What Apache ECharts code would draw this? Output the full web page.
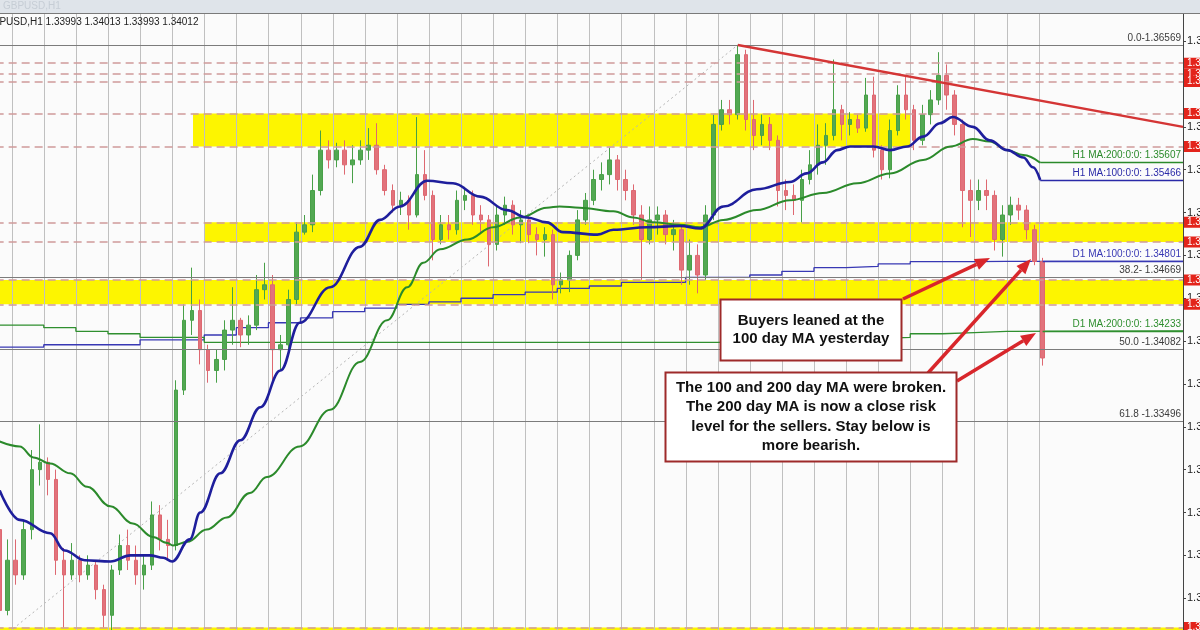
<!DOCTYPE html>
<html lang="en">
<head>
  <meta charset="UTF-8">
  <title>GBPUSD,H1</title>
  <style>
    html, body { margin: 0; padding: 0; background: #fbfbfb; }
    #chart { width: 1200px; height: 630px; }
  </style>
  <script src="https://cdn.jsdelivr.net/npm/echarts@6/dist/echarts.min.js"></script>
</head>
<body>
  <div id="chart"></div>
<script>
  // price bars, [open, close, low, high]
  const candles = [
    [1.3261,1.3195,1.3181,1.3265],[1.3195,1.3236,1.3191,1.3253],[1.3236,1.3224,1.3216,1.3253],[1.3224,1.3261,1.3220,1.3269],
    [1.3261,1.3310,1.3253,1.3326],[1.3310,1.3316,1.3297,1.3347],[1.3316,1.3302,1.3289,1.3320],[1.3302,1.3236,1.3224,1.3310],
    [1.3236,1.3224,1.3181,1.3246],[1.3224,1.3236,1.3220,1.3250],[1.3236,1.3224,1.3218,1.3240],[1.3224,1.3232,1.3220,1.3240],
    [1.3232,1.3212,1.3204,1.3236],[1.3212,1.3191,1.3181,1.3216],[1.3191,1.3228,1.3179,1.3232],[1.3228,1.3248,1.3224,1.3257],
    [1.3248,1.3236,1.3228,1.3261],[1.3236,1.3224,1.3216,1.3248],[1.3224,1.3232,1.3212,1.3240],[1.3232,1.3273,1.3228,1.3284],
    [1.3273,1.3253,1.3244,1.3281],[1.3253,1.3248,1.3236,1.3269],[1.3248,1.3375,1.3244,1.3383],[1.3375,1.3432,1.3371,1.3445],
    [1.3432,1.3440,1.3420,1.3475],[1.3440,1.3408,1.3396,1.3449],[1.3408,1.3391,1.3381,1.3412],[1.3391,1.3400,1.3381,1.3408],
    [1.3400,1.3424,1.3391,1.3432],[1.3424,1.3432,1.3412,1.3459],[1.3432,1.3420,1.3410,1.3434],[1.3420,1.3428,1.3412,1.3436],
    [1.3428,1.3457,1.3424,1.3469],[1.3457,1.3461,1.3449,1.3479],[1.3461,1.3408,1.3383,1.3469],[1.3408,1.3412,1.3391,1.3420],
    [1.3412,1.3449,1.3404,1.3457],[1.3449,1.3504,1.3445,1.3512],[1.3504,1.3510,1.3502,1.3518],[1.3510,1.3538,1.3504,1.3551],
    [1.3538,1.3571,1.3534,1.3587],[1.3571,1.3563,1.3556,1.3579],[1.3563,1.3571,1.3557,1.3577],[1.3571,1.3559,1.3551,1.3579],
    [1.3559,1.3563,1.3544,1.3575],[1.3563,1.3571,1.3559,1.3579],[1.3571,1.3575,1.3563,1.3589],[1.3575,1.3555,1.3551,1.3593],
    [1.3555,1.3538,1.3534,1.3559],[1.3538,1.3526,1.3520,1.3543],[1.3526,1.3530,1.3518,1.3537],[1.3530,1.3518,1.3506,1.3534],
    [1.3518,1.3551,1.3516,1.3598],[1.3551,1.3534,1.3530,1.3571],[1.3534,1.3498,1.3481,1.3538],[1.3498,1.3510,1.3494,1.3518],
    [1.3510,1.3506,1.3498,1.3518],[1.3506,1.3530,1.3502,1.3538],[1.3530,1.3534,1.3522,1.3541],[1.3534,1.3518,1.3510,1.3538],
    [1.3518,1.3514,1.3503,1.3526],[1.3514,1.3494,1.3476,1.3518],[1.3494,1.3518,1.3489,1.3526],[1.3518,1.3526,1.3510,1.3533],
    [1.3526,1.3510,1.3502,1.3530],[1.3510,1.3514,1.3495,1.3522],[1.3514,1.3502,1.3495,1.3518],[1.3502,1.3498,1.3485,1.3508],
    [1.3498,1.3502,1.3484,1.3508],[1.3502,1.3461,1.3449,1.3506],[1.3461,1.3465,1.3454,1.3471],[1.3465,1.3485,1.3455,1.3489],
    [1.3485,1.3514,1.3481,1.3522],[1.3514,1.3530,1.3510,1.3536],[1.3530,1.3547,1.3526,1.3555],[1.3547,1.3551,1.3538,1.3561],
    [1.3551,1.3563,1.3543,1.3573],[1.3563,1.3547,1.3538,1.3567],[1.3547,1.3538,1.3530,1.3555],[1.3538,1.3518,1.3510,1.3543],
    [1.3518,1.3498,1.3465,1.3526],[1.3498,1.3514,1.3494,1.3525],[1.3514,1.3518,1.3502,1.3525],[1.3518,1.3502,1.3494,1.3522],
    [1.3502,1.3506,1.3489,1.3514],[1.3506,1.3473,1.3461,1.3510],[1.3473,1.3485,1.3461,1.3498],[1.3485,1.3469,1.3454,1.3494],
    [1.3469,1.3518,1.3465,1.3526],[1.3518,1.3592,1.3514,1.3600],[1.3592,1.3604,1.3587,1.3612],[1.3604,1.3600,1.3592,1.3612],
    [1.3600,1.3649,1.3596,1.36569],[1.3649,1.3596,1.3587,1.3653],[1.3596,1.3583,1.3571,1.3612],[1.3583,1.3592,1.3575,1.3600],
    [1.3592,1.3579,1.3571,1.3598],[1.3579,1.3538,1.3525,1.3583],[1.3538,1.3534,1.3522,1.3547],[1.3534,1.3530,1.3518,1.3543],
    [1.3530,1.3547,1.3512,1.3555],[1.3547,1.3559,1.3543,1.3571],[1.3559,1.3575,1.3551,1.3592],[1.3575,1.3583,1.3559,1.3593],
    [1.3583,1.3604,1.3579,1.3645],[1.3604,1.3592,1.3579,1.3608],[1.3592,1.3596,1.3583,1.3602],[1.3596,1.3589,1.3585,1.3600],
    [1.3589,1.3616,1.3586,1.3630],[1.3616,1.3571,1.3565,1.3631],[1.3571,1.3555,1.3547,1.3575],[1.3555,1.3587,1.3548,1.3596],
    [1.3587,1.3616,1.3583,1.3624],[1.3616,1.3604,1.3596,1.3631],[1.3604,1.3579,1.3571,1.3608],[1.3579,1.3600,1.3575,1.3608],
    [1.3600,1.3612,1.3592,1.3620],[1.3612,1.3632,1.3608,1.3651],[1.3632,1.3616,1.3604,1.3641],[1.3616,1.3592,1.3583,1.3620],
    [1.3592,1.3538,1.3508,1.3596],[1.3538,1.3530,1.3500,1.3547],[1.3530,1.3538,1.3522,1.3547],[1.3538,1.3534,1.3522,1.3547],
    [1.3534,1.3498,1.3489,1.3538],[1.3498,1.3518,1.3484,1.3526],[1.3518,1.3526,1.3510,1.3533],[1.3526,1.3522,1.3514,1.3532],
    [1.3522,1.3506,1.3498,1.3526],[1.3506,1.3480,1.3477,1.3510],[1.3480,1.34012,1.3395,1.3483]
  ];
  const slotCount = 148; // bar slots across the window, last ones empty (chart shift)
  const dayCount = 33;   // trading days with bars, 4 slots each
  const priceMin = 1.3179, priceMax = 1.36822;

  // H1 moving averages, [bar position, price]
  const h1Ma100 = [
    [0,1.3293],[2.5,1.3269],[6.3,1.3258],[8.1,1.3244],[10.6,1.3236],[13.8,1.3235],[16.3,1.3240],[18.7,1.3240],
    [20.4,1.3238],[21.5,1.3235],[23.7,1.3253],[25,1.3275],[27.5,1.3307],[30,1.3334],[32.5,1.3361],[35,1.3391],
    [37.4,1.3430],[41.2,1.3459],[44.9,1.3492],[47.4,1.3514],[49.9,1.3525],[53.3,1.3546],[56.5,1.3544],[59.9,1.3533],
    [63.2,1.3522],[65.7,1.3516],[68.2,1.3512],[70.2,1.3504],[74.5,1.3502],[76.5,1.3506],[80.7,1.3508],[84.8,1.3509],
    [87.3,1.3507],[90.2,1.3525],[94.4,1.3539],[98.5,1.3545],[100.6,1.3552],[102.6,1.3561],[104.4,1.3571],[106,1.3574],
    [108.9,1.3574],[111,1.3571],[113.1,1.3574],[115.1,1.3582],[117.2,1.3593],[118.8,1.3598],[121.3,1.3590],[123.4,1.3579],
    [125.6,1.3571],[127.6,1.3565],[128.8,1.3557],[129.7,1.35466]
  ];
  const h1Ma200 = [
    [0,1.3333],[2.5,1.3329],[4.2,1.3320],[6.3,1.3315],[8.8,1.3307],[10.9,1.3296],[13.8,1.3280],[16.6,1.3266],
    [19.1,1.3255],[20.9,1.3250],[21.6,1.3248],[23.4,1.3251],[25.8,1.3261],[28.3,1.3271],[31.2,1.3291],[33.3,1.3304],
    [37.4,1.3329],[41.2,1.3359],[44.9,1.3398],[48.3,1.3432],[50.8,1.3459],[52.8,1.3479],[54.9,1.3490],[58.3,1.3498],
    [61.5,1.3508],[64.9,1.3516],[68.2,1.3524],[69.8,1.3525],[72.3,1.3524],[76.5,1.3521],[79,1.3516],[81.4,1.3512],
    [84.8,1.3510],[87.3,1.3508],[90.2,1.3514],[94.4,1.3522],[98.5,1.3530],[102.6,1.3536],[106.9,1.3544],[111,1.3552],
    [115.1,1.3563],[118.5,1.3574],[121.3,1.3580],[123.4,1.3578],[125.6,1.3571],[127.6,1.3567],[129.7,1.35607]
  ];
  const h1Ends = [
    { text: 'H1 MA:200:0:0: ', value: 1.35607 },
    { text: 'H1 MA:100:0:0: ', value: 1.35466 }
  ];

  // D1 moving averages, one value per trading day
  const d1Ma100 = [1.3410,1.3410,1.3412,1.3412,1.3412,1.3416,1.3416,1.3420,1.3426,1.3430,1.3434,1.3439,1.3442,1.3445,1.3447,
    1.3450,1.3453,1.3455,1.3458,1.3460,1.3463,1.3463,1.3467,1.3467,1.3469,1.3472,1.3475,1.3476,1.3478,1.3480,1.3480,1.34801,1.34801];
  const d1Ma200 = [1.3428,1.3428,1.3426,1.3423,1.3421,1.3418,1.3418,1.3414,1.3414,1.3414,1.3414,1.3414,1.3414,1.3414,1.3414,
    1.3414,1.3414,1.3414,1.3414,1.3414,1.3414,1.3414,1.3414,1.3415,1.3415,1.3416,1.3416,1.3417,1.3418,1.3421,1.3422,1.3423,1.34233];
  const d1Ends = [
    { text: 'D1 MA:100:0:0: ', value: 1.34801 },
    { text: 'D1 MA:200:0:0: ', value: 1.34233 }
  ];

  // fibonacci retracement
  const fibSwing = [[-2.2, 1.31596], [92, 1.36569]];
  const fibLevels = [1.36569, 1.34669, 1.34082, 1.33496];
  const fibLabels = ['0.0-1.36569', '38.2- 1.34669', '50.0 -1.34082', '61.8 -1.33496'];

  // drawn objects
  const trendLine = [[92, 1.36569], [147.5, 1.3590]];
  const priceLevels = [1.3642, 1.3633, 1.3627, 1.3601, 1.3574, 1.3512, 1.3496, 1.3465, 1.3445, 1.3181];
  const zones = [ // [from bar, to bar, low, high]
    [24.1, 113.5, 1.3574, 1.3601],
    [25.6, 147.5, 1.3496, 1.3512],
    [-0.5, 147.5, 1.3445, 1.3465],
    [-0.5, 147.5, 1.3150, 1.3181]
  ];
  const lastPrice = 1.34012;
  const yTicks = [1.3205,1.3240,1.3275,1.3310,1.3345,1.3380,1.3415,1.3450,1.3485,1.3520,1.3555,1.3590,1.3625,1.3660];

  const slots = Array.from({ length: slotCount }, (_, i) => i);
  // day separators sit between bar slots 4j+1 and 4j+2
  const daySeparators = Array.from({ length: dayCount }, (_, j) => 4 * j + 1.5);
  const stepPoints = (vals) => {
    const pts = vals.map((v, j) => [4 * j - 2.5, v]);
    pts.push([slotCount - 0.5, vals[vals.length - 1]]);
    return pts;
  };
  const endLine = (item, from, color) => ({
    symbol: 'none', silent: true, precision: 5,
    lineStyle: { color: color, type: 'solid', width: 1.3 },
    label: {
      position: 'insideEndTop', distance: 2, color: color, fontSize: 10,
      formatter: item.text + item.value.toFixed(5)
    },
    data: [[{ coord: [from, item.value] }, { coord: [slotCount - 0.5, item.value] }]]
  });

  const RED = '#d8262b';
  function arrow(x1, y1, x2, y2) {
    const a = Math.atan2(y2 - y1, x2 - x1), L = 15, W = 6;
    const bx = x2 - L * Math.cos(a), by = y2 - L * Math.sin(a);
    return [
      { type: 'line', z: 50, shape: { x1: x1, y1: y1, x2: bx, y2: by }, style: { stroke: RED, lineWidth: 3.5 } },
      { type: 'polygon', z: 50, shape: { points: [[x2, y2],
        [bx + W * Math.sin(a), by - W * Math.cos(a)], [bx - W * Math.sin(a), by + W * Math.cos(a)]] },
        style: { fill: RED } }
    ];
  }

  const chart = echarts.init(document.getElementById('chart'));
  const option = {
    animation: false,
    backgroundColor: '#fbfbfb',
    textStyle: { fontFamily: '"Liberation Sans", Arial, sans-serif' },
    grid: { left: -4.35, right: 17, top: 14, bottom: 0, outerBoundsMode: 'none', containLabel: false },
    xAxis: [
      {
        type: 'category', data: slots, boundaryGap: true,
        axisLine: { show: false, onZero: false }, axisTick: { show: false }, axisLabel: { show: false },
        splitLine: { show: false }
      },
      {
        type: 'value', min: -0.5, max: slotCount - 0.5,
        axisLine: { show: false, onZero: false }, axisTick: { show: false }, axisLabel: { show: false },
        splitLine: { show: false }
      }
    ],
    yAxis: {
      type: 'value', position: 'right', min: priceMin, max: priceMax,
      axisLine: { show: true, onZero: false, lineStyle: { color: '#444', width: 1 } },
      axisTick: { show: true, length: 3, customValues: yTicks, lineStyle: { color: '#444' } },
      axisLabel: { customValues: yTicks, margin: 4, fontSize: 11, color: '#222', formatter: (v) => v.toFixed(5) },
      splitLine: { show: false }
    },
    series: [
      {
        name: 'zones', type: 'line', xAxisIndex: 1, data: [], z: 0,
        markArea: {
          silent: true,
          itemStyle: { color: '#fdf500' },
          data: zones.map(z => [{ coord: [z[0], z[2]] }, { coord: [z[1], z[3]] }])
        }
      },
      {
        // vertical day separators
        name: 'days', type: 'custom', xAxisIndex: 1, z: 3, silent: true,
        data: daySeparators.map(x => [x, priceMin]),
        encode: { x: 0, y: 1 },
        renderItem: (params, api) => {
          const top = api.coord([api.value(0), priceMax]);
          const bottom = api.coord([api.value(0), priceMin]);
          return {
            type: 'rect',
            shape: { x: Math.round(top[0]), y: top[1], width: 1, height: bottom[1] - top[1] },
            style: { fill: '#c0c0c0' }
          };
        }
      },
      {
        name: 'levels', type: 'line', xAxisIndex: 1, data: [], z: 2,
        markLine: {
          symbol: 'none', silent: true, precision: 5,
          lineStyle: { color: '#cf9a9a', type: [8, 5], width: 1.5 },
          label: {
            position: 'end', distance: 1, color: '#fff', backgroundColor: '#e3241b',
            fontSize: 10, padding: [1, 3, 0, 3], formatter: (p) => priceLevels[p.dataIndex].toFixed(5)
          },
          data: priceLevels.map(v => ({ yAxis: v }))
        }
      },
      {
        name: 'fib', type: 'line', xAxisIndex: 1, data: fibSwing, z: 2, symbol: 'none',
        lineStyle: { color: '#b4b4b4', type: [2, 3], width: 1 },
        markLine: {
          symbol: 'none', silent: true, precision: 5,
          lineStyle: { color: '#7c7c7c', type: 'solid', width: 1 },
          label: { position: 'insideEndTop', distance: 2, color: '#3c3c3c', fontSize: 10,
            formatter: (p) => fibLabels[p.dataIndex] },
          data: fibLevels.map(v => ({ yAxis: v }))
        }
      },
      {
        name: 'D1 MA100', type: 'line', xAxisIndex: 1, data: stepPoints(d1Ma100), step: 'end', z: 3,
        symbol: 'none', lineStyle: { color: '#3838b4', width: 1.3 },
        markLine: endLine(d1Ends[0], 130, '#3838b4')
      },
      {
        name: 'D1 MA200', type: 'line', xAxisIndex: 1, data: stepPoints(d1Ma200), step: 'end', z: 3,
        symbol: 'none', lineStyle: { color: '#2f8f2f', width: 1.3 },
        markLine: endLine(d1Ends[1], 130, '#2f8f2f')
      },
      {
        name: 'GBPUSD', type: 'candlestick', xAxisIndex: 0, data: candles, z: 4, barWidth: 4,
        itemStyle: { color: '#52a852', color0: '#e2727b', borderColor: '#48a048', borderColor0: '#de6871', borderWidth: 1 },
        markLine: {
          symbol: 'none', silent: true, precision: 5,
          lineStyle: { opacity: 0 },
          label: { position: 'end', distance: 1, color: '#fff', backgroundColor: '#111',
            fontSize: 10, padding: [1, 3, 0, 3], formatter: () => lastPrice.toFixed(5) },
          data: [{ yAxis: lastPrice }]
        }
      },
      {
        name: 'H1 MA200', type: 'line', xAxisIndex: 1, data: h1Ma200, z: 5, smooth: 0.4, smoothMonotone: 'x',
        symbol: 'none', lineStyle: { color: '#2b8a2b', width: 2 },
        markLine: endLine(h1Ends[0], 129.7, '#2b8a2b')
      },
      {
        name: 'H1 MA100', type: 'line', xAxisIndex: 1, data: h1Ma100, z: 6, smooth: 0.4, smoothMonotone: 'x',
        symbol: 'none', lineStyle: { color: '#1e1e9c', width: 2.6 },
        markLine: endLine(h1Ends[1], 129.7, '#2a2aa8')
      },
      {
        name: 'trend', type: 'line', xAxisIndex: 1, data: trendLine, z: 7, symbol: 'none',
        lineStyle: { color: '#d43535', width: 2.5 }
      }
    ],
    graphic: [
      { type: 'rect', z: 40, shape: { x: 0, y: 0, width: 1200, height: 13 }, style: { fill: '#dfe4ea' } },
      { type: 'text', z: 41, x: 3, y: 1, style: { text: 'GBPUSD,H1', fill: '#c6cdd5', font: '10px "Liberation Sans"' } },
      { type: 'line', z: 41, shape: { x1: 0, y1: 13.5, x2: 1200, y2: 13.5 }, style: { stroke: '#7a7a7a', lineWidth: 1 } },
      { type: 'text', z: 41, x: -15, y: 17, style: { text: 'GBPUSD,H1 1.33993 1.34013 1.33993 1.34012', fill: '#222', font: '10px "Liberation Sans"' } },
      ...arrow(903, 299, 990, 258),
      ...arrow(928, 373, 1031, 259),
      ...arrow(957, 381, 1036, 333),
      { type: 'rect', z: 60, shape: { x: 720.5, y: 299.5, width: 181, height: 61 },
        style: { fill: '#fff', stroke: '#9e2a2a', lineWidth: 2 } },
      { type: 'text', z: 61, x: 811, y: 330,
        style: { text: 'Buyers leaned at the\n100 day MA yesterday', fill: '#111', align: 'center', verticalAlign: 'middle',
          font: 'bold 15px "Liberation Sans"', lineHeight: 18 } },
      { type: 'rect', z: 60, shape: { x: 665.5, y: 372.5, width: 291, height: 89 },
        style: { fill: '#fff', stroke: '#9e2a2a', lineWidth: 2 } },
      { type: 'text', z: 61, x: 811, y: 417,
        style: { text: 'The 100 and 200 day MA were broken.\nThe 200 day MA is now a close risk\nlevel for the sellers. Stay below is\nmore bearish.',
          fill: '#111', align: 'center', verticalAlign: 'middle', font: 'bold 15px "Liberation Sans"', lineHeight: 19.5 } }
    ]
  };
  chart.setOption(option);
</script>
</body>
</html>
